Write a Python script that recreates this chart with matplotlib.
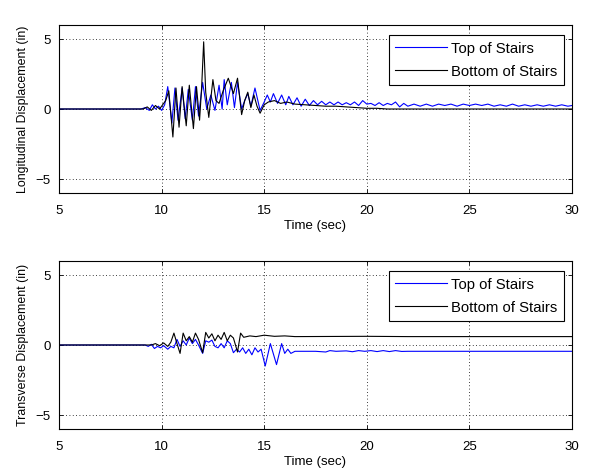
import matplotlib
matplotlib.use("Agg")
import matplotlib.pyplot as plt

plt.rcParams['font.family'] = ['Liberation Sans', 'DejaVu Sans']

# ---------------- data ----------------
t_long_top = [5, 9.0, 9.2, 9.4, 9.55, 9.7, 9.85, 10.0, 10.15, 10.3, 10.45, 10.5, 10.65, 10.8,
              11.0, 11.15, 11.3, 11.5, 11.65, 11.8, 12.0, 12.2, 12.4, 12.6, 12.8, 12.95, 13.05,
              13.2, 13.4, 13.55, 13.7, 13.9, 14.05, 14.2, 14.35, 14.55, 14.8, 15.0, 15.15, 15.3,
              15.45, 15.65, 15.85, 16.05, 16.2, 16.4, 16.6, 16.8, 17.0, 17.2, 17.4, 17.6, 17.8,
              18.0, 18.2, 18.4, 18.6, 18.8, 19.0, 19.2, 19.4, 19.6, 19.8, 20.0, 20.2, 20.4, 20.6,
              20.8, 21.0, 21.2, 21.4, 21.6, 21.8, 22.0, 22.3, 22.6, 22.9, 23.2, 23.5, 23.8, 24.1,
              24.4, 24.7, 25.0, 25.3, 25.6, 25.9, 26.2, 26.5, 26.8, 27.1, 27.4, 27.7, 28.0, 28.3,
              28.6, 28.9, 29.2, 29.5, 29.8, 30.0]
y_long_top = [0, 0, 0.1, -0.1, 0.3, 0.0, 0.2, -0.1, 0.3, 1.6, -0.3, -1.0, 1.5, -0.8,
              1.5, -0.7, 1.4, -0.8, 1.6, -0.5, 1.9, 0.0, 1.0, -0.1, 1.7, 0.0, 2.1,
              0.3, 1.9, 0.1, 1.9, 0.0, 0.6, 1.1, 0.2, 1.5, -0.1, 0.5, 1.0, 0.5,
              1.1, 0.4, 1.0, 0.3, 0.9, 0.3, 0.8, 0.2, 0.7, 0.25, 0.6, 0.3, 0.55,
              0.3, 0.5, 0.3, 0.5, 0.3, 0.45, 0.3, 0.5, 0.25, 0.6, 0.35, 0.4, 0.25, 0.45,
              0.25, 0.4, 0.3, 0.5, 0.15, 0.4, 0.2, 0.35, 0.2, 0.35, 0.2, 0.35, 0.25, 0.35,
              0.2, 0.35, 0.25, 0.35, 0.25, 0.35, 0.2, 0.3, 0.2, 0.35, 0.2, 0.3, 0.2, 0.3,
              0.2, 0.3, 0.2, 0.3, 0.2, 0.25]

t_long_bot = [5, 9.1, 9.3, 9.5, 9.7, 9.9, 10.05, 10.2, 10.35, 10.55, 10.7, 10.85, 11.0, 11.2,
              11.35, 11.55, 11.7, 11.85, 11.95, 12.05, 12.15, 12.3, 12.5, 12.65, 12.8, 13.0,
              13.25, 13.5, 13.7, 13.9, 14.05, 14.2, 14.35, 14.5, 14.65, 14.8, 15.0, 15.2, 15.5,
              15.8, 16.1, 16.5, 17.0, 17.5, 18.0, 18.5, 19.0, 19.5, 20.0, 20.5, 21.0, 30.0]
y_long_bot = [0, 0, 0.15, -0.1, 0.25, 0.0, 0.3, 0.6, 1.3, -2.0, 1.5, -1.3, 1.6, -1.2,
              1.7, -1.4, 1.6, -0.8, 1.5, 4.8, 1.2, -0.6, 2.1, 0.6, 0.4, 1.3,
              2.2, 1.1, 2.2, -0.4, 0.6, 1.2, 0.1, 1.0, 0.2, -0.3, 0.3, 0.5, 0.6,
              0.4, 0.5, 0.35, 0.3, 0.25, 0.2, 0.2, 0.15, 0.1, 0.05, 0.05, 0.0, 0.0]

t_trans_top = [5, 9.2, 9.35, 9.5, 9.65, 9.8, 9.95, 10.1, 10.3, 10.45, 10.6, 10.75, 10.9, 11.05,
               11.2, 11.35, 11.5, 11.65, 11.8, 12.0, 12.15, 12.3, 12.45, 12.6, 12.75, 12.9,
               13.05, 13.2, 13.35, 13.5, 13.65, 13.8, 13.95, 14.1, 14.25, 14.4, 14.55, 14.7,
               14.85, 15.05, 15.3, 15.6, 15.85, 16.0, 16.15, 16.3, 16.5, 17.5, 18.0, 18.2, 18.5,
               19.0, 19.3, 19.6, 19.9, 20.2, 20.5, 20.8, 21.1, 21.4, 21.7, 22.0, 30.0]
y_trans_top = [0, 0, -0.1, 0.05, -0.25, -0.1, -0.2, -0.05, -0.3, -0.1, -0.2, 0.4, -0.1, 0.3,
               0.0, 0.5, 0.1, 0.4, 0.0, -0.6, 0.3, 0.2, 0.35, -0.1, -0.2, 0.1,
               -0.2, 0.3, 0.1, -0.55, -0.3, -0.5, -0.2, -0.6, -0.3, -0.7, -0.2, -0.5,
               -0.3, -1.5, 0.1, -1.4, 0.1, -0.6, -0.3, -0.6, -0.45, -0.45, -0.5, -0.4, -0.45,
               -0.42, -0.48, -0.4, -0.45, -0.4, -0.47, -0.4, -0.47, -0.4, -0.46, -0.45, -0.45]

t_trans_bot = [5, 9.5, 9.7, 9.9, 10.1, 10.3, 10.45, 10.6, 10.75, 10.9, 11.05, 11.2, 11.35, 11.5,
               11.65, 11.8, 12.0, 12.15, 12.3, 12.45, 12.6, 12.75, 12.9, 13.05, 13.2, 13.35,
               13.5, 13.7, 13.85, 14.0, 14.3, 14.6, 15.0, 15.5, 16.0, 16.5, 20.0, 22.0, 30.0]
y_trans_bot = [0, 0, 0.1, -0.05, 0.15, -0.1, 0.2, 0.85, 0.1, -0.6, 0.85, 0.3, 0.6, 0.2,
               0.85, 0.4, -0.55, 0.9, 0.5, 0.8, 0.3, 0.7, 0.4, 0.9, 0.3, 0.7,
               0.5, -0.5, 0.85, 0.55, 0.65, 0.6, 0.7, 0.62, 0.65, 0.6, 0.62, 0.6, 0.6]

x_ticks = [5, 10, 15, 20, 25, 30]
y_ticks = [-5, 0, 5]
series_labels = ["Top of Stairs", "Bottom of Stairs"]
x_label = "Time (sec)"
y_labels = ["Longitudinal Displacement (in)", "Transverse Displacement (in)"]

# ---------------- figure ----------------
fig = plt.figure(figsize=(5.89, 4.72), dpi=100)
W, H = 589, 472
positions = [
    [59 / W, 1 - 193 / H, 513 / W, 168 / H],
    [59 / W, 1 - 429 / H, 513 / W, 168 / H],
]
panels = [
    (t_long_top, y_long_top, t_long_bot, y_long_bot, y_labels[0]),
    (t_trans_top, y_trans_top, t_trans_bot, y_trans_bot, y_labels[1]),
]
for pos, (ta, ya, tb, yb, ylab) in zip(positions, panels):
    ax = fig.add_axes(pos)
    ax.plot(ta, ya, color=(0, 0, 1), lw=0.8, label=series_labels[0])
    ax.plot(tb, yb, color='black', lw=0.8, label=series_labels[1])
    ax.set_xlim(5, 30)
    ax.set_ylim(-6, 6)
    ax.set_xticks(x_ticks)
    ax.set_yticks(y_ticks)
    ax.grid(True, color='black', linestyle=(0, (1, 3)), linewidth=0.6)
    ax.tick_params(direction='in', top=True, right=True, labelsize=9.5, length=3, width=0.6)
    ax.tick_params(axis='x', pad=8.5)
    ax.tick_params(axis='y', pad=6)
    for s in ax.spines.values():
        s.set_linewidth(0.8)
    ax.set_xlabel(x_label, fontsize=9.5, labelpad=2.5)
    ax.set_ylabel(ylab, fontsize=8.9, labelpad=5)
    leg = ax.legend(loc='upper right', bbox_to_anchor=(1 - 8 / 513, 1 - 10 / 168),
                    fontsize=10.7, fancybox=False, framealpha=1,
                    edgecolor='black', handlelength=3.5, borderpad=0.45,
                    labelspacing=0.6, borderaxespad=0.0, handletextpad=0.25)
    leg.get_frame().set_linewidth(0.8)

fig.savefig("out.png", dpi=100)
